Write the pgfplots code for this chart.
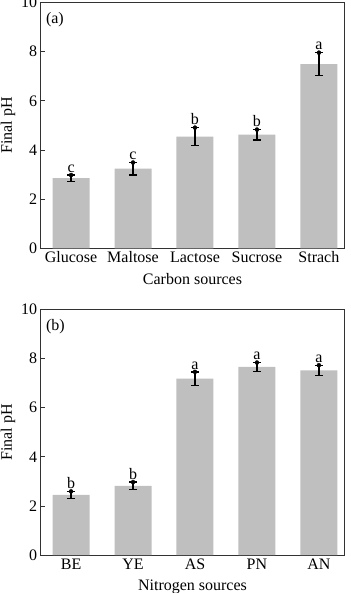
\documentclass[border=0pt]{standalone}
\usepackage{fontspec}
\setmainfont{Liberation Serif}
\usepackage{pgfplots}
\usepackage{pgfplotstable}
\pgfplotsset{compat=1.18}
\definecolor{barfill}{RGB}{191,191,191}
\definecolor{axcol}{RGB}{50,50,50}

\pgfplotstableread{
x y err lab
0 2.85 0.13 c
1 3.24 0.25 c
2 4.54 0.37 b
3 4.62 0.21 b
4 7.49 0.47 a
}\carbon

\pgfplotstableread{
x y err lab
0 2.45 0.14 b
1 2.82 0.15 b
2 7.18 0.28 a
3 7.66 0.18 a
4 7.52 0.21 a
}\nitrogen

\pgfplotsset{
  panel/.style={
    scale only axis,
    width=303.6pt,
    ymin=0, ymax=10, ytick={0,2,4,6,8,10},
    xmin=-0.49, xmax=4.41, xtick={0,1,2,3,4},
    ytick pos=left, tick align=inside, major tick length=4pt,
    xtick style={draw=none},
    ytick style={axcol, line width=0.8pt},
    axis line style={axcol, line width=0.8pt},
    tick label style={font=\fontsize{16}{19}\selectfont},
    label style={font=\fontsize{16}{19}\selectfont},
    /pgf/number format/assume math mode=true,
    ylabel={Final pH},
    ylabel style={at={(axis description cs:-0.083,0.5)}, anchor=south, inner sep=0pt},
    xlabel style={at={(axis description cs:0.5,0)}, anchor=north, yshift=-24.5pt, inner sep=0pt},
  },
  barplot/.style={
    ybar, bar shift=0pt, bar width=37pt, fill=barfill, draw=none,
    error bars/.cd, y dir=both, y explicit,
    error bar style={black, line width=1.4pt},
    error mark options={rotate=90, mark size=4pt, line width=1.4pt, black},
  },
  letters/.style={
    only marks, mark=*, mark options={draw=none, fill=none},
    nodes near coords, point meta=explicit symbolic,
    nodes near coords style={anchor=south, inner sep=2.5pt, black, font=\fontsize{16}{19}\selectfont},
  },
}

\begin{document}
\begin{tikzpicture}
\path[use as bounding box] (0pt,0pt) rectangle (350pt,-593pt);

\begin{axis}[panel, height=245.8pt, at={(40.7pt,-248.3pt)}, anchor=south west,
  xticklabels={Glucose,Maltose,Lactose,Sucrose,Strach},
  xlabel={Carbon sources}]
\addplot[barplot] table[x=x, y=y, y error=err]{\carbon};
\addplot[letters] table[x=x, y expr=\thisrow{y}+\thisrow{err}, meta=lab]{\carbon};
\node[anchor=north west, inner sep=0pt, font=\fontsize{16}{19}\selectfont] at (axis description cs:0.017,0.962) {(a)};
\end{axis}

\begin{axis}[panel, height=245.5pt, at={(40.7pt,-555pt)}, anchor=south west,
  xticklabels={BE,YE,AS,PN,AN},
  xlabel={Nitrogen sources}]
\addplot[barplot] table[x=x, y=y, y error=err]{\nitrogen};
\addplot[letters] table[x=x, y expr=\thisrow{y}+\thisrow{err}, meta=lab]{\nitrogen};
\node[anchor=north west, inner sep=0pt, font=\fontsize{16}{19}\selectfont] at (axis description cs:0.017,0.962) {(b)};
\end{axis}
\end{tikzpicture}
\end{document}
